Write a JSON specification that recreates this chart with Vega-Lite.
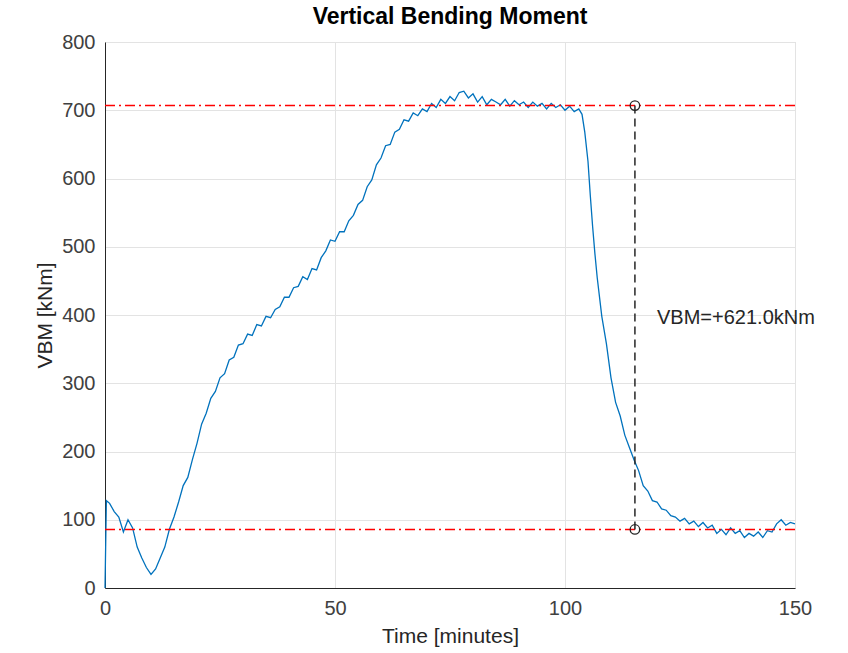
{
  "$schema": "https://vega.github.io/schema/vega-lite/v6.json",
  "width": 690,
  "height": 546,
  "autosize": "none",
  "padding": {"left": 105, "top": 42, "right": 53, "bottom": 65},
  "title": {"text": "Vertical Bending Moment", "font": "Liberation Sans", "fontSize": 23, "fontWeight": "bold", "color": "#000000", "offset": 3, "anchor": "middle"},
  "config": {
    "view": {"stroke": "#d9d9d9", "strokeWidth": 1},
    "axis": {"labelFont": "Liberation Sans", "titleFont": "Liberation Sans", "labelFontSize": 20, "titleFontSize": 21, "titleFontWeight": "normal", "labelColor": "#404040", "titleColor": "#262626", "domainColor": "#262626", "tickColor": "#262626", "gridColor": "#e3e3e3", "ticks": false}
  },
  "datasets": {
    "vbm": [
      {"t":0,"v":0},{"t":0.3,"v":128},{"t":1,"v":124},{"t":2,"v":112},{"t":3,"v":104},{"t":4,"v":82},{"t":5,"v":100},{"t":6,"v":88},{"t":7,"v":60},{"t":8,"v":44},{"t":9,"v":30},{"t":10,"v":20},{"t":11,"v":28},{"t":12,"v":44},{"t":13,"v":60},{"t":14,"v":86},{"t":15,"v":104},{"t":16,"v":126},{"t":17,"v":150},{"t":18,"v":162},{"t":19,"v":188},{"t":20,"v":212},{"t":21,"v":240},{"t":22,"v":256},{"t":23,"v":278},{"t":24,"v":288},{"t":25,"v":308},{"t":26,"v":314},{"t":27,"v":334},{"t":28,"v":338},{"t":29,"v":356},{"t":30,"v":358},{"t":31,"v":372},{"t":32,"v":370},{"t":33,"v":386},{"t":34,"v":384},{"t":35,"v":398},{"t":36,"v":396},{"t":37,"v":408},{"t":38,"v":412},{"t":39,"v":426},{"t":40,"v":426},{"t":41,"v":440},{"t":42,"v":442},{"t":43,"v":456},{"t":44,"v":452},{"t":45,"v":468},{"t":46,"v":466},{"t":47,"v":484},{"t":48,"v":494},{"t":49,"v":510},{"t":50,"v":508},{"t":51,"v":522},{"t":52,"v":522},{"t":53,"v":538},{"t":54,"v":546},{"t":55,"v":562},{"t":56,"v":568},{"t":57,"v":588},{"t":58,"v":598},{"t":59,"v":620},{"t":60,"v":630},{"t":61,"v":648},{"t":62,"v":650},{"t":63,"v":668},{"t":64,"v":672},{"t":65,"v":686},{"t":66,"v":684},{"t":67,"v":696},{"t":68,"v":692},{"t":69,"v":702},{"t":70,"v":698},{"t":71,"v":710},{"t":72,"v":704},{"t":73,"v":716},{"t":74,"v":710},{"t":75,"v":720},{"t":76,"v":714},{"t":77,"v":726},{"t":78,"v":728},{"t":79,"v":718},{"t":80,"v":724},{"t":81,"v":712},{"t":82,"v":720},{"t":83,"v":708},{"t":84,"v":716},{"t":85,"v":712},{"t":86,"v":708},{"t":87,"v":716},{"t":88,"v":706},{"t":89,"v":714},{"t":90,"v":708},{"t":91,"v":712},{"t":92,"v":704},{"t":93,"v":712},{"t":94,"v":706},{"t":95,"v":710},{"t":96,"v":702},{"t":97,"v":710},{"t":98,"v":704},{"t":99,"v":708},{"t":100,"v":700},{"t":101,"v":706},{"t":102,"v":698},{"t":103,"v":702},{"t":103.7,"v":694},{"t":104.3,"v":668},{"t":105,"v":625},{"t":105.5,"v":575},{"t":106,"v":530},{"t":106.5,"v":490},{"t":107,"v":455},{"t":108,"v":398},{"t":109,"v":358},{"t":110,"v":308},{"t":111,"v":272},{"t":112,"v":252},{"t":113,"v":224},{"t":114,"v":206},{"t":115,"v":188},{"t":116,"v":172},{"t":117,"v":150},{"t":118,"v":142},{"t":119,"v":128},{"t":120,"v":126},{"t":121,"v":116},{"t":122,"v":114},{"t":123,"v":106},{"t":124,"v":104},{"t":125,"v":98},{"t":126,"v":102},{"t":127,"v":94},{"t":128,"v":98},{"t":129,"v":90},{"t":130,"v":96},{"t":131,"v":88},{"t":132,"v":92},{"t":133,"v":80},{"t":134,"v":86},{"t":135,"v":78},{"t":136,"v":88},{"t":137,"v":80},{"t":138,"v":84},{"t":139,"v":74},{"t":140,"v":80},{"t":141,"v":76},{"t":142,"v":82},{"t":143,"v":74},{"t":144,"v":84},{"t":145,"v":82},{"t":146,"v":94},{"t":147,"v":100},{"t":148,"v":92},{"t":149,"v":96},{"t":150,"v":94}
    ],
    "refs": [{"ref": 706.8}, {"ref": 85.8}],
    "marker": [{"t": 115.2, "top": 706.8, "bottom": 85.8}],
    "ends": [{"t": 115.2, "v": 706.8}, {"t": 115.2, "v": 85.8}],
    "label": [{"t": 120, "v": 396, "text": "VBM=+621.0kNm"}]
  },
  "layer": [
    {
      "data": {"name": "vbm"},
      "mark": {"type": "line", "color": "#0072BD", "strokeWidth": 1.3, "interpolate": "linear"},
      "encoding": {
        "x": {"field": "t", "type": "quantitative", "scale": {"domain": [0, 150], "nice": false}, "axis": {"values": [0, 50, 100, 150], "title": "Time [minutes]", "labelPadding": 10, "titlePadding": 7, "labelFlush": false}},
        "y": {"field": "v", "type": "quantitative", "scale": {"domain": [0, 800], "nice": false}, "axis": {"values": [0, 100, 200, 300, 400, 500, 600, 700, 800], "title": "VBM [kNm]", "labelPadding": 10, "titlePadding": 6, "labelFlush": false}}
      }
    },
    {
      "data": {"name": "refs"},
      "mark": {"type": "rule", "color": "#ff0000", "strokeWidth": 1.5, "strokeDash": [10, 4, 2, 4]},
      "encoding": {"y": {"field": "ref", "type": "quantitative"}}
    },
    {
      "data": {"name": "marker"},
      "mark": {"type": "rule", "color": "#262626", "strokeWidth": 1.5, "strokeDash": [8, 5]},
      "encoding": {
        "x": {"field": "t", "type": "quantitative"},
        "y": {"field": "top", "type": "quantitative"},
        "y2": {"field": "bottom"}
      }
    },
    {
      "data": {"name": "ends"},
      "mark": {"type": "point", "shape": "circle", "filled": false, "color": "#262626", "size": 90, "strokeWidth": 1.3, "opacity": 1},
      "encoding": {
        "x": {"field": "t", "type": "quantitative"},
        "y": {"field": "v", "type": "quantitative"}
      }
    },
    {
      "data": {"name": "label"},
      "mark": {"type": "text", "align": "left", "baseline": "middle", "font": "Liberation Sans", "fontSize": 20, "color": "#262626"},
      "encoding": {
        "x": {"field": "t", "type": "quantitative"},
        "y": {"field": "v", "type": "quantitative"},
        "text": {"field": "text"}
      }
    }
  ]
}
